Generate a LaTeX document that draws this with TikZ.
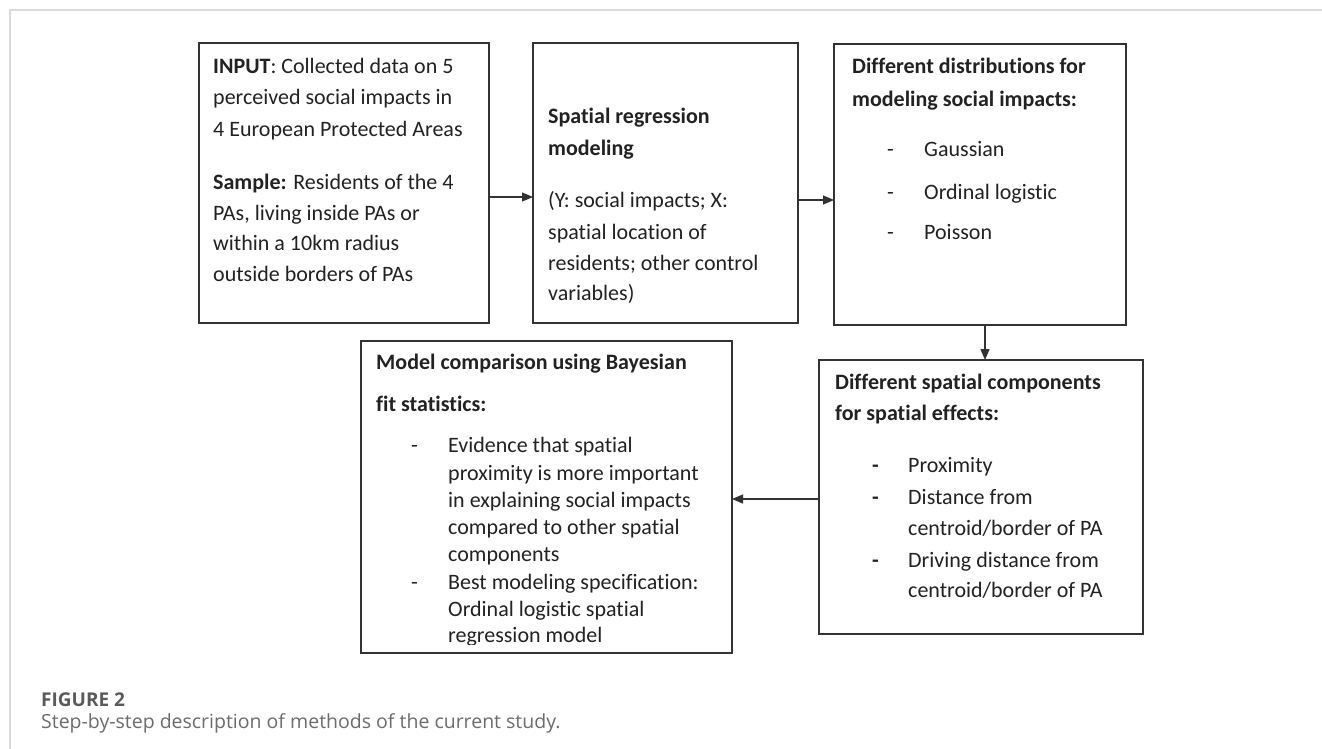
\documentclass[tikz,border=0pt]{standalone}
\usepackage{fontspec}
\setmainfont{Carlito}[Ligatures=NoCommon]
\newfontfamily\capfont{Open Sans}
\usetikzlibrary{arrows.meta}
\definecolor{edge}{HTML}{333333}
\definecolor{ink}{HTML}{222222}
\definecolor{framegray}{HTML}{DADADA}
\definecolor{capdark}{HTML}{5A5A5A}
\definecolor{caplight}{HTML}{6C6C6C}

\begin{document}
\begin{tikzpicture}[x=1pt,y=-1pt,
  box/.style={draw=edge, line width=1.3pt, anchor=north west, inner sep=0pt, outer sep=0pt},
  txt/.style={anchor=base west, inner sep=0pt, text=ink, font=\fontsize{22}{26}\selectfont},
  link/.style={draw=edge, line width=1.2pt, -{Triangle[length=11pt,width=9pt]}},
  captitle/.style={anchor=base west, inner sep=0pt, text=capdark, font=\capfont\fontsize{19}{22}\selectfont\bfseries},
  captext/.style={anchor=base west, inner sep=0pt, text=caplight, font=\capfont\fontsize{19.5}{22}\selectfont}]

\fill[white] (0,0) rectangle (1322,749);
\useasboundingbox (0,0) rectangle (1322,749);

% figure frame (top and left rules only)
\draw[framegray, line width=2pt] (1322,10) -- (10,10) -- (10,749);

% process boxes
\node[box, minimum width=290pt, minimum height=280pt] (b1) at (199,43) {};
\node[box, minimum width=265pt, minimum height=280pt] (b2) at (533,43) {};
\node[box, minimum width=292pt, minimum height=281pt] (b3) at (834,44) {};
\node[box, minimum width=324pt, minimum height=274pt] (b4) at (819,360) {};
\node[box, minimum width=371pt, minimum height=312pt] (b5) at (361,341) {};

% box 1: input and sample
\foreach \yy/\s [count=\i] in {
  74/{\textbf{INPUT}: Collected data on 5},
  105/{perceived social impacts in},
  136/{4 European Protected Areas},
  189/{\textbf{Sample:} Residents of the 4},
  220/{PAs, living inside PAs or},
  250/{within a 10km radius},
  281/{outside borders of PAs}}
  \node[txt] (ta-\i) at (213,\yy) {\s};

% box 2: regression model
\foreach \yy/\s [count=\i] in {
  124/{\textbf{Spatial regression}},
  155/{\textbf{modeling}},
  207/{(Y: social impacts; X:},
  239/{spatial location of},
  270/{residents; other control},
  300/{variables)}}
  \node[txt] (tb-\i) at (548,\yy) {\s};

% box 3: distributions
\node[txt] (tc-1) at (852,74) {\textbf{Different distributions for}};
\node[txt] (tc-2) at (852,107) {\textbf{modeling social impacts:}};
\foreach \yy/\s [count=\i] in {157/Gaussian, 199/{Ordinal logistic}, 239/Poisson} {
  \node[txt] (dc-\i) at (887,\yy) {-};
  \node[txt] (ic-\i) at (924,\yy) {\s};
}

% box 4: spatial components
\node[txt] (td-1) at (835,389) {\textbf{Different spatial components}};
\node[txt] (td-2) at (835,420) {\textbf{for spatial effects:}};
\foreach \yy [count=\i] in {472,504,567}
  \node[txt] (dd-\i) at (872,\yy) {\textbf{-}};
\foreach \yy/\s [count=\i] in {
  472/Proximity,
  504/{Distance from},
  535/{centroid/border of PA},
  567/{Driving distance from},
  597/{centroid/border of PA}}
  \node[txt] (id-\i) at (908,\yy) {\s};

% box 5: model comparison (last line is cut by the box)
\node[txt] (te-1) at (376,369) {\textbf{Model comparison using Bayesian}};
\node[txt] (te-2) at (376,411) {\textbf{fit statistics:}};
\node[txt] (de-1) at (411,452) {-};
\node[txt] (de-2) at (411,589) {-};
\begin{scope}
  \clip (361,341) rectangle (732,644);
  \foreach \yy/\s [count=\i] in {
    452/{Evidence that spatial},
    480/{proximity is more important},
    507/{in explaining social impacts},
    534/{compared to other spatial},
    561/{components},
    589/{Best modeling specification:},
    616/{Ordinal logistic spatial},
    642/{regression model}}
    \node[txt] (ie-\i) at (448,\yy) {\s};
\end{scope}

% connectors
\coordinate (r1) at (0,197);
\coordinate (r2) at (0,200);
\coordinate (c3) at (985,0);
\coordinate (r4) at (0,499);
\draw[link] (b1.east |- r1) -- (b2.west |- r1);
\draw[link] (b2.east |- r2) -- (b3.west |- r2);
\draw[link] (b3.south -| c3) -- (b4.north -| c3);
\draw[link] (b4.west |- r4) -- (b5.east |- r4);

% caption
\node[captitle] (figlabel) at (41,706) {FIGURE 2};
\node[captext] (figtext) at (41,728) {Step-by-step description of methods of the current study.};
\end{tikzpicture}
\end{document}
